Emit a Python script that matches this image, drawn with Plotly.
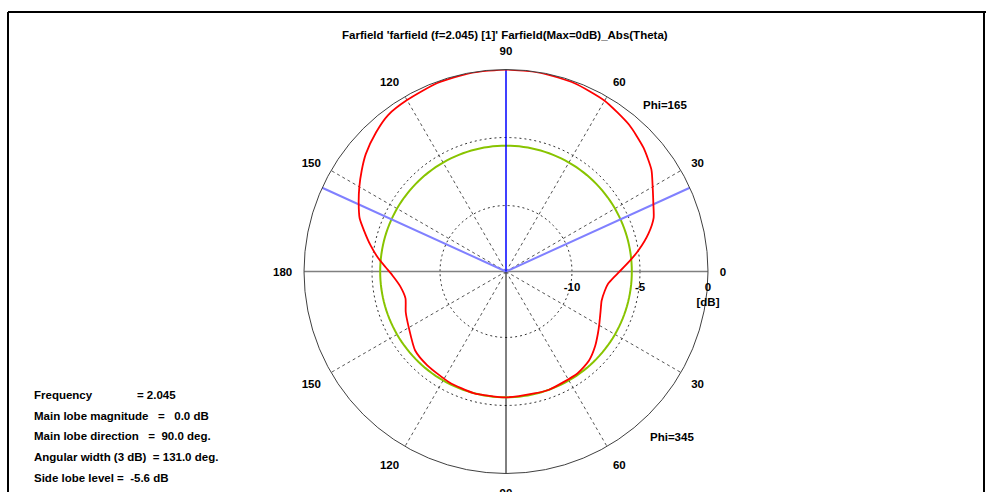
import plotly.graph_objects as go

# Farfield cut, Phi=165 (upper half) / Phi=345 (lower half), normalised to 0 dB
pattern_angle = [0, 5, 9, 15, 20, 25, 30, 35, 42, 50, 60, 70, 80, 90, 100, 110, 120,
                 127, 133, 140, 145, 150, 155, 160, 164, 169, 174, 178, 182, 188, 195,
                 202, 210, 221, 230, 243, 255, 270, 283, 290, 305, 313, 320, 326, 331,
                 337, 343, 349, 353, 357, 360]
pattern_db = [-6.5, -5.7, -5.0, -4.0, -3.3, -2.9, -2.4, -1.8, -1.25, -0.77, -0.35, -0.12,
              -0.02, 0.0, -0.02, -0.1, -0.3, -0.45, -0.85, -1.4, -1.9, -2.4, -2.9, -3.4,
              -4.0, -4.7, -5.4, -6.0, -6.5, -7.0, -7.2, -6.9, -6.6, -6.0, -5.85, -5.7,
              -5.6, -5.6, -5.65, -5.6, -5.7, -5.9, -6.3, -6.7, -7.0, -7.3, -7.5, -7.45,
              -7.3, -6.9, -6.5]

# Summary values
frequency = 2.045
main_lobe_magnitude = 0.0
main_lobe_direction = 90.0
angular_width_3db = 131.0
side_lobe_level = -5.6

# Axes
r_min, r_max = -14.85, 0.0
radial_ticks = [-10, -5, 0]
angle_ticks = [0, 30, 60, 90, 120, 150, 180, 210, 240, 270, 300, 330]
angle_labels = ["0", "30", "60", "90", "120", "150", "180", "150", "120", "90", "60", "30"]
spoke_angles = [30, 60, 120, 150, 210, 240, 300, 330]
ring_levels = [-10, -5]

FONT = "Liberation Sans"
FS = 11.5

fig = go.Figure()

# dashed spokes
sp_r, sp_t = [], []
for a in spoke_angles:
    sp_r += [r_min, r_max, None]
    sp_t += [a, a, None]
fig.add_trace(go.Scatterpolar(r=sp_r, theta=sp_t, mode="lines", connectgaps=False,
                              line=dict(color="#555555", width=1, dash="3px,3px"),
                              hoverinfo="skip", showlegend=False))

# dashed rings
ring_theta = list(range(0, 361, 2))
for lv in ring_levels:
    fig.add_trace(go.Scatterpolar(r=[lv] * len(ring_theta), theta=ring_theta, mode="lines",
                                  line=dict(color="#333333", width=1, dash="2px,3px"),
                                  hoverinfo="skip", showlegend=False))

# horizontal axis (0 - 180) and lower vertical axis
fig.add_trace(go.Scatterpolar(r=[r_max, r_min, r_min, r_max], theta=[0, 0, 180, 180],
                              mode="lines", line=dict(color="#808080", width=1.5),
                              hoverinfo="skip", showlegend=False))
fig.add_trace(go.Scatterpolar(r=[r_min, r_max], theta=[270, 270], mode="lines",
                              line=dict(color="#000000", width=1),
                              hoverinfo="skip", showlegend=False))

# side lobe level ring
fig.add_trace(go.Scatterpolar(r=[side_lobe_level] * len(ring_theta), theta=ring_theta,
                              mode="lines", line=dict(color="#88c400", width=2),
                              hoverinfo="skip", showlegend=False))

# 3 dB beamwidth limits
half_w = angular_width_3db / 2
for a in (main_lobe_direction - half_w, main_lobe_direction + half_w):
    fig.add_trace(go.Scatterpolar(r=[r_min, r_max], theta=[a, a], mode="lines",
                                  line=dict(color="#8080ff", width=2),
                                  hoverinfo="skip", showlegend=False))

# main lobe direction
fig.add_trace(go.Scatterpolar(r=[r_min, main_lobe_magnitude],
                              theta=[main_lobe_direction, main_lobe_direction], mode="lines",
                              line=dict(color="#0000ff", width=1.5),
                              hoverinfo="skip", showlegend=False))

# pattern
fig.add_trace(go.Scatterpolar(r=pattern_db, theta=pattern_angle, mode="lines",
                              line=dict(color="#ff0000", width=1.8, shape="spline", smoothing=0.6),
                              hoverinfo="skip", showlegend=False))

W, H = 986, 492
cx, cy, R = 506, 271.5, 202

fig.update_layout(
    width=W, height=H,
    margin=dict(l=0, r=0, t=0, b=0),
    paper_bgcolor="white",
    showlegend=False,
    polar=dict(
        domain=dict(x=[(cx - R) / W, (cx + R) / W], y=[(H - cy - R) / H, (H - cy + R) / H]),
        bgcolor="white",
        angularaxis=dict(
            rotation=0, direction="counterclockwise",
            tickmode="array", tickvals=angle_ticks, ticktext=angle_labels,
            showgrid=False, showline=True, linecolor="#404040", linewidth=1,
            ticks="outside", ticklen=9, tickcolor="rgba(0,0,0,0)",
            tickfont=dict(family=FONT, size=FS, color="black", weight="bold"),
        ),
        radialaxis=dict(
            range=[r_min, r_max], angle=0, side="clockwise", tickangle=0,
            tickmode="array", tickvals=radial_ticks,
            ticktext=["-10", "-5", "0<br>[dB]"],
            showgrid=False, showline=False,
            ticks="outside", ticklen=5, tickcolor="rgba(0,0,0,0)",
            tickfont=dict(family=FONT, size=FS, color="black", weight="bold"),
        ),
    ),
)

def px_note(text, x, y, xanchor="left"):
    fig.add_annotation(text=text, x=x / W, y=1 - y / H, xref="paper", yref="paper",
                       xanchor=xanchor, yanchor="middle", showarrow=False,
                       font=dict(family=FONT, size=FS, color="black", weight="bold"))

px_note("Farfield 'farfield (f=2.045) [1]' Farfield(Max=0dB)_Abs(Theta)", 505, 35, "center")
px_note("Phi=165", 665, 105, "center")
px_note("Phi=345", 672, 437, "center")

nb = "\u00a0"
info_lines = [
    f"Frequency{nb * 14}={nb}{frequency:.3f}",
    f"Main lobe magnitude{nb * 3}={nb * 3}{main_lobe_magnitude:.1f} dB",
    f"Main lobe direction{nb * 3}={nb * 2}{main_lobe_direction:.1f} deg.",
    f"Angular width (3 dB){nb * 2}={nb}{angular_width_3db:.1f} deg.",
    f"Side lobe level ={nb * 2}{side_lobe_level:.1f} dB",
]
for i, line in enumerate(info_lines):
    px_note(line, 32, 395 + i * 20.7)

# window frame
for x0, y0, x1, y1 in [(8, 12, 986, 12), (8, 12, 8, 492), (984, 12, 984, 492)]:
    fig.add_shape(type="line", xref="paper", yref="paper",
                  x0=x0 / W, y0=1 - y0 / H, x1=x1 / W, y1=1 - y1 / H,
                  line=dict(color="black", width=2))

fig.write_html("out.html")
